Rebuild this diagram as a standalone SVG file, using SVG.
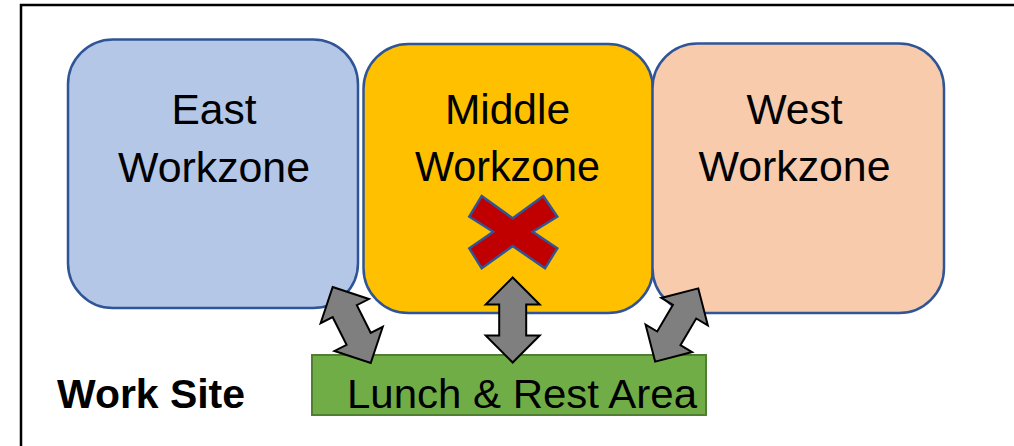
<svg xmlns="http://www.w3.org/2000/svg" xmlns:xlink="http://www.w3.org/1999/xlink" width="1014" height="446" viewBox="0 0 1014 446">
  <style>
    .zone { stroke: #2F5597; stroke-width: 2.5; }
    .lbl { font-family: "Liberation Sans", Arial, sans-serif; font-size: 42.5px; fill: #000; text-anchor: middle; }
    .arrow { fill: #7F7F7F; stroke: #000; stroke-width: 2; stroke-linejoin: miter; }
  </style>
  <defs>
    <polygon id="dblArrow" points="0,-42.5 27,-15.5 13.5,-15.5 13.5,15.5 27,15.5 0,42.5 -27,15.5 -13.5,15.5 -13.5,-15.5 -27,-15.5"/>
  </defs>
  <rect width="1014" height="446" fill="#fff"/>
  <rect id="frame" x="21" y="5" width="1100" height="500" fill="none" stroke="#000" stroke-width="2.5"/>

  <g id="east">
    <rect class="zone" x="68" y="39.5" width="290" height="268.5" rx="45" ry="45" fill="#B4C7E7"/>
    <text class="lbl" x="214" y="124.3">East</text>
    <text class="lbl" x="214" y="181.7" textLength="192" lengthAdjust="spacingAndGlyphs">Workzone</text>
  </g>
  <g id="middle">
    <rect class="zone" x="363.5" y="44" width="289.5" height="269" rx="45" ry="45" fill="#FFC000"/>
    <text class="lbl" x="507.5" y="124.3">Middle</text>
    <text class="lbl" x="507.5" y="180.5" textLength="185" lengthAdjust="spacingAndGlyphs">Workzone</text>
    <polygon points="481.7,196 512.7,218.3 543.3,196 557.3,216.7 532.7,231.7 557.3,248.3 545,268.3 512.7,246 481.7,268.3 469.3,248.3 493.3,231.7 469.3,216.7" fill="#C00000" stroke="#2F5597" stroke-width="2.5" stroke-linejoin="miter"/>
  </g>
  <g id="west">
    <rect class="zone" x="652.5" y="43.5" width="291.5" height="269.5" rx="45" ry="45" fill="#F8CBAD"/>
    <text class="lbl" x="794.5" y="124.3">West</text>
    <text class="lbl" x="794.5" y="181" textLength="192" lengthAdjust="spacingAndGlyphs">Workzone</text>
  </g>
  <g id="lunch">
    <rect x="312" y="355" width="394" height="60" fill="#70AD47" stroke="#507E32" stroke-width="2"/>
    <text x="347" y="408" font-family="Liberation Sans, Arial, sans-serif" font-size="40" textLength="350" lengthAdjust="spacingAndGlyphs" fill="#000">Lunch &amp; Rest Area</text>
  </g>
  <g id="worksite">
    <text x="57" y="408.3" font-family="Liberation Sans, Arial, sans-serif" font-size="40" font-weight="bold" textLength="188" lengthAdjust="spacingAndGlyphs" fill="#000">Work Site</text>
  </g>

  <g id="connectors">
    <use xlink:href="#dblArrow" href="#dblArrow" class="arrow" transform="translate(351.7,325) rotate(-26.6)"/>
    <use xlink:href="#dblArrow" href="#dblArrow" class="arrow" transform="translate(512.7,320)"/>
    <use xlink:href="#dblArrow" href="#dblArrow" class="arrow" transform="translate(676.7,325) rotate(30.5)"/>
  </g>
</svg>
